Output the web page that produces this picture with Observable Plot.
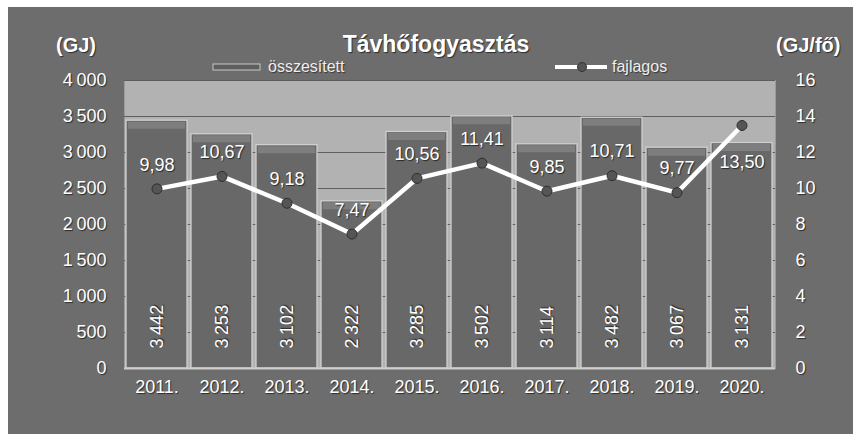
<!DOCTYPE html>
<html><head><meta charset="utf-8">
<script src="https://cdn.jsdelivr.net/npm/d3@7"></script>
<script src="https://cdn.jsdelivr.net/npm/@observablehq/plot@0.6"></script>
<style>
body{margin:0;background:#fff;font-family:"Liberation Sans",Arial,sans-serif;}
#frame{position:absolute;left:8px;top:7px;width:845px;height:427px;background:#6d6d6d;overflow:hidden}
#chart{position:absolute;left:0;top:0}
.t{position:absolute;color:#fff;white-space:nowrap;text-shadow:1px 1px 1px rgba(0,0,0,0.6)}
#title{left:330px;width:196px;text-align:center;top:24px;font-weight:bold;font-size:23px}
#gj{left:48px;top:27px;font-weight:bold;font-size:20px}
#gjfo{left:768px;top:27px;font-weight:bold;font-size:20px}
.leg{position:absolute;top:50px;height:20px;display:flex;align-items:center;color:#eee;font-size:16px;text-shadow:1px 1px 1px rgba(0,0,0,0.5)}
svg text{text-shadow:1px 1px 1px rgba(0,0,0,0.6)}
</style></head>
<body>
<div id="frame">
  <div id="chart"></div>
  <div class="t" id="title">Távhőfogyasztás</div>
  <div class="t" id="gj">(GJ)</div>
  <div class="t" id="gjfo">(GJ/fő)</div>
  <div class="leg" style="left:204px"><svg width="50" height="10"><rect x="1" y="2" width="47" height="6" fill="#5e5e5e" stroke="#c8c8c8" stroke-width="1"/></svg><span style="margin-left:6px">összesített</span></div>
  <div class="leg" style="left:546px"><svg width="54" height="14"><line x1="1" y1="7" x2="53" y2="7" stroke="#fff" stroke-width="4"/><circle cx="28" cy="7" r="4.5" fill="#555" stroke="#333"/></svg><span style="margin-left:4px">fajlagos</span></div>
</div>
<script>
const years = ["2011.","2012.","2013.","2014.","2015.","2016.","2017.","2018.","2019.","2020."];
const osszesitett = [3442,3253,3102,2322,3285,3502,3114,3482,3067,3131];
const fajlagos = [9.98,10.67,9.18,7.47,10.56,11.41,9.85,10.71,9.77,13.50];
const leftTicks = [0,500,1000,1500,2000,2500,3000,3500,4000];
const rightTicks = [0,2,4,6,8,10,12,14,16];
const ratio = 4000/16;

const data = years.map((y,i)=>({year:y,total:osszesitett[i],fajl:fajlagos[i]}));
const fmtInt = d => d >= 1000 ? d3.format(",")(d).replace(",", "\u2009") : String(d);
const fmtTick = d => d >= 1000 ? d3.format(",")(d).replace(",", "\u2009") : String(d);
const fmtDec = d => d3.format(".2f")(d).replace(".", ",");

const chart = Plot.plot({
  width:845, height:427,
  marginLeft:116, marginRight:78, marginTop:73, marginBottom:66,
  style:{fontFamily:"Liberation Sans, Arial, sans-serif", background:"transparent", overflow:"visible"},
  x:{domain:years, paddingInner:0.06, paddingOuter:0.03},
  y:{domain:[0,4000]},
  marks:[
    Plot.frame({fill:"#b2b2b2", stroke:"#9a9a9a"}),
    Plot.gridY(leftTicks, {stroke:"#555", strokeOpacity:0.9, strokeWidth:1}),
    Plot.barY(data, {x:"year", y:"total", fill:"#686868", stroke:"#d0d0d0", strokeWidth:1.3}),
    Plot.tickY(data, {x:"year", y:"total", stroke:"#7e7e7e", strokeWidth:7, dy:4.5, insetLeft:2, insetRight:2}),
    Plot.ruleY([0], {stroke:"#cfcfcf", strokeWidth:2}),
    Plot.axisY(leftTicks, {anchor:"left", tickSize:0, tickPadding:18, tickFormat:fmtTick, fill:"#fff", fontSize:18, label:null}),
    Plot.axisY(rightTicks.map(d=>d*ratio), {anchor:"right", tickSize:0, tickPadding:20, tickFormat:d=>String(d/ratio), fill:"#fff", fontSize:18, label:null}),
    Plot.axisX({tickSize:0, tickPadding:12, fill:"#fff", fontSize:18, letterSpacing:"0.5px", label:null}),
    Plot.text(data, {x:"year", y:0, text:d=>fmtInt(d.total), rotate:-90, textAnchor:"start", dy:-20, fill:"#fff", fontSize:18}),
    Plot.line(data, {x:"year", y:d=>d.fajl*ratio, stroke:"#fff", strokeWidth:4.5}),
    Plot.dot(data, {x:"year", y:d=>d.fajl*ratio, r:5, fill:"#555", stroke:"#2e2e2e", strokeWidth:1}),
    Plot.text(data.filter(d=>d.year!=="2020."), {x:"year", y:d=>d.fajl*ratio, text:d=>fmtDec(d.fajl), dy:-24, fill:"#fff", fontSize:18, letterSpacing:"0.5px"}),
    Plot.text(data.filter(d=>d.year==="2020."), {x:"year", y:d=>d.fajl*ratio, text:d=>fmtDec(d.fajl), dy:37, fill:"#fff", fontSize:18, letterSpacing:"0.5px"})
  ]
});
document.getElementById("chart").appendChild(chart);
</script>
</body></html>
